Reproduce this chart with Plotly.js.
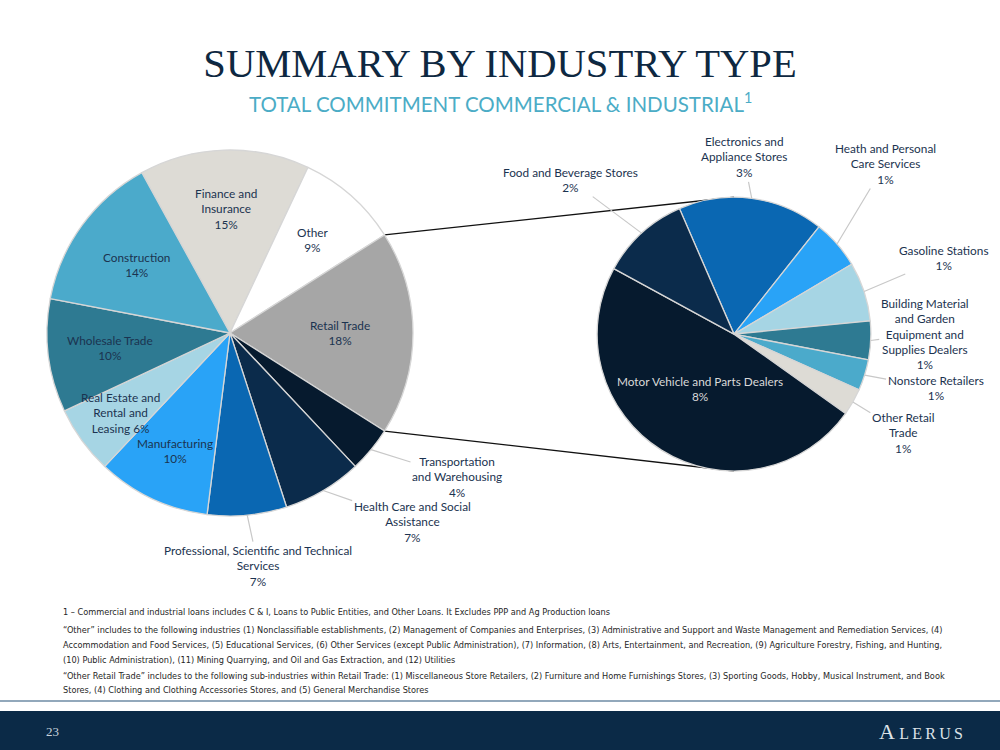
<!DOCTYPE html>
<html><head><meta charset="utf-8">
<script src="https://cdn.plot.ly/plotly-3.0.1.min.js"></script>
<style>html,body{margin:0;padding:0;background:#fff}#chart{width:1000px;height:750px}</style>
</head><body><div id="chart"></div>
<script>
// ---------------- DATA ----------------
// Main pie: share of total C&I commitment (%)
const industries = ["Finance and<br>Insurance", "Other", "Retail Trade", "Transportation<br>and Warehousing",
  "Health Care and Social<br>Assistance", "Professional, Scientific and Technical<br>Services", "Manufacturing",
  "Real Estate and<br>Rental and<br>Leasing", "Wholesale Trade", "Construction"];
const industryShare = [15, 9, 18, 4, 7, 7, 10, 6, 10, 14];

// Retail Trade breakdown (% of total commitment)
const retailSubs = ["Electronics and<br>Appliance Stores", "Heath and Personal<br>Care Services", "Gasoline Stations",
  "Building Material<br>and Garden<br>Equipment and<br>Supplies Dealers", "Nonstore Retailers", "Other Retail<br>Trade",
  "Motor Vehicle and Parts Dealers", "Food and Beverage Stores"];
const retailShare = [3.02, 1.02, 1.23, 0.8, 0.64, 0.56, 8.45, 1.85];

const footnotes = [
  "1 – Commercial and industrial loans includes C & I, Loans to Public Entities, and Other Loans. It Excludes PPP and Ag Production loans",
  "“Other” includes to the following industries (1) Nonclassifiable establishments, (2) Management of Companies and Enterprises, (3) Administrative and Support and Waste Management and Remediation Services, (4)",
  "Accommodation and Food Services, (5) Educational Services, (6) Other Services (except Public Administration), (7) Information, (8) Arts, Entertainment, and Recreation, (9) Agriculture Forestry, Fishing, and Hunting,",
  "(10) Public Administration), (11) Mining Quarrying, and Oil and Gas Extraction, and (12) Utilities",
  "“Other Retail Trade” includes to the following sub-industries within Retail Trade: (1) Miscellaneous Store Retailers, (2) Furniture and Home Furnishings Stores, (3) Sporting Goods, Hobby, Musical Instrument, and Book",
  "Stores, (4) Clothing and Clothing Accessories Stores, and (5) General Merchandise Stores"
];

// ---------------- STYLE / LAYOUT ----------------
const W = 1000, H = 750;
const LBL = '#1B3350';
const leftColors = ['#DDDBD5', '#FFFFFF', '#A6A6A6', '#061A2E', '#0B2B4B', '#0A67B2', '#29A3F7', '#A6D5E4', '#2E7A92', '#4BAACB'];
const rightColors = ['#0A67B2', '#29A3F7', '#A6D5E4', '#2E7A92', '#4BAACB', '#DDDBD5', '#061A2E', '#0B2B4B'];
const leftPlace = [{r: 0.68}, {r: 0.68}, {r: 0.6}, {out: [86, 27]}, {out: [89, 31]}, {out: [11, 51]},
  {r: 0.71}, {r: 0.74, inline: true}, {r: 0.66}, {r: 0.63}];
const rightPlace = [{out: [-8, -41]}, {out: [48, -80]}, {out: [80, -34]}, {out: [54, -7]}, {out: [71, 13]},
  {out: [50, 31]}, {r: 0.47, color: '#D9D9D9'}, {out: [-71, -53]}];
const leftDomain = {x: [0.047, 0.413], y: [0.312, 0.800]};
const rightDomain = {x: [0.597, 0.871], y: [0.372, 0.737]};
const rightRotation = -23.5;
const labelFont = {family: 'Lato, "Open Sans", sans-serif', size: 11.8, color: LBL};

function geom(d) {
  return {cx: (d.x[0] + d.x[1]) / 2 * W, cy: (1 - (d.y[0] + d.y[1]) / 2) * H,
          r: Math.min((d.x[1] - d.x[0]) * W, (d.y[1] - d.y[0]) * H) / 2};
}
function angles(vals, rot) {
  const tot = vals.reduce((a, b) => a + b, 0); let a = rot;
  return vals.map(v => { const s = a; a += v / tot * 360; return {start: s, end: a, mid: (s + a) / 2}; });
}
function pt(g, deg, frac) {
  const t = deg * Math.PI / 180;
  return [g.cx + g.r * frac * Math.sin(t), g.cy - g.r * frac * Math.cos(t)];
}
const px2x = p => p / W, py2y = p => 1 - p / H;

const totL = industryShare.reduce((a, b) => a + b, 0);
const retailIdx = 2;
const before = industryShare.slice(0, retailIdx).reduce((a, b) => a + b, 0);
const leftRotation = 90 - (before + industryShare[retailIdx] / 2) / totL * 360;

const gL = geom(leftDomain), gR = geom(rightDomain);
const angL = angles(industryShare, leftRotation), angR = angles(retailShare, rightRotation);

const annotations = [];
function addLabels(names, vals, angs, g, place) {
  names.forEach((n, i) => {
    const p = place[i];
    const txt = n + (p.inline ? ' ' : '<br>') + Math.round(vals[i]) + '%';
    const font = Object.assign({}, labelFont, p.color ? {color: p.color} : {});
    if (p.out) {
      const e = pt(g, angs[i].mid, 1.0);
      annotations.push({x: px2x(e[0]), y: py2y(e[1]), xref: 'paper', yref: 'paper', text: txt, font: font,
        showarrow: true, arrowhead: 0, arrowwidth: 1.2, arrowcolor: '#C8C8C8', ax: p.out[0], ay: p.out[1],
        align: 'center', standoff: 0});
    } else {
      const c = pt(g, angs[i].mid, p.r);
      annotations.push({x: px2x(c[0]), y: py2y(c[1]), xref: 'paper', yref: 'paper', text: txt, font: font,
        showarrow: false, xanchor: 'center', yanchor: 'middle', align: 'center'});
    }
  });
}
addLabels(industries, industryShare, angL, gL, leftPlace);
addLabels(retailSubs, retailShare, angR, gR, rightPlace);

annotations.push({x: 0.5, y: py2y(102), xref: 'paper', yref: 'paper', showarrow: false, xanchor: 'center', yanchor: 'middle',
  text: 'TOTAL COMMITMENT COMMERCIAL &amp; INDUSTRIAL<sup>1</sup>', font: {family: 'Lato, sans-serif', size: 20.5, color: '#4BACC6'}});

const fnY = [612, 630, 645, 660, 676, 690];
footnotes.forEach((t, i) => annotations.push({x: px2x(61), y: py2y(fnY[i]), xref: 'paper', yref: 'paper', showarrow: false,
  xanchor: 'left', yanchor: 'middle', align: 'left', text: t,
  font: {family: '"Liberation Sans Narrow", "DejaVu Sans Condensed", sans-serif', size: 9.1, color: '#262626'}}));

annotations.push({x: px2x(52), y: py2y(731), xref: 'paper', yref: 'paper', showarrow: false, xanchor: 'center', yanchor: 'middle',
  text: '23', font: {family: 'Liberation Serif, serif', size: 13, color: '#C9D3DC'}});
annotations.push({x: px2x(921), y: py2y(731), xref: 'paper', yref: 'paper', showarrow: false, xanchor: 'center', yanchor: 'middle',
  text: 'A\u2009<span style="font-size:16px">L\u2009E\u2009R\u2009U\u2009S</span>', font: {family: 'Liberation Serif, serif', size: 22, color: '#DDE3E8'}});

const rs = pt(gL, angL[retailIdx].start, 1.0), re = pt(gL, angL[retailIdx].end, 1.0);
const shapes = [
  {type: 'line', xref: 'paper', yref: 'paper', layer: 'below', x0: px2x(rs[0]), y0: py2y(rs[1]), x1: px2x(gR.cx), y1: py2y(gR.cy - gR.r), line: {color: '#111', width: 1.3}},
  {type: 'line', xref: 'paper', yref: 'paper', layer: 'below', x0: px2x(re[0]), y0: py2y(re[1]), x1: px2x(gR.cx), y1: py2y(gR.cy + gR.r), line: {color: '#111', width: 1.3}},
  {type: 'line', xref: 'paper', yref: 'paper', x0: 0, x1: 1, y0: py2y(701), y1: py2y(701), line: {color: '#6E8BA5', width: 1.5}},
  {type: 'rect', xref: 'paper', yref: 'paper', x0: 0, x1: 1, y0: 0, y1: py2y(711), fillcolor: '#0B2A47', line: {width: 0}}
];

const data = [
  {type: 'pie', labels: industries, values: industryShare, sort: false, direction: 'clockwise', rotation: leftRotation,
   domain: leftDomain, textinfo: 'none', hoverinfo: 'label+value',
   marker: {colors: leftColors, line: {color: '#D6D6D6', width: 1.3}}},
  {type: 'pie', labels: retailSubs, values: retailShare, sort: false, direction: 'clockwise', rotation: rightRotation,
   domain: rightDomain, textinfo: 'none', hoverinfo: 'label+value',
   marker: {colors: rightColors, line: {color: '#D6D6D6', width: 1.3}}}
];

const layout = {
  width: W, height: H, margin: {l: 0, r: 0, t: 0, b: 0}, showlegend: false,
  paper_bgcolor: '#FFFFFF', plot_bgcolor: '#FFFFFF',
  title: {text: 'SUMMARY BY INDUSTRY TYPE', x: 0.5, xanchor: 'center', y: py2y(63), yanchor: 'middle',
          font: {family: 'Liberation Serif, serif', size: 40.6, color: '#0E2841'}},
  annotations: annotations, shapes: shapes
};
Plotly.newPlot('chart', data, layout, {displayModeBar: false, staticPlot: true});
</script></body></html>
